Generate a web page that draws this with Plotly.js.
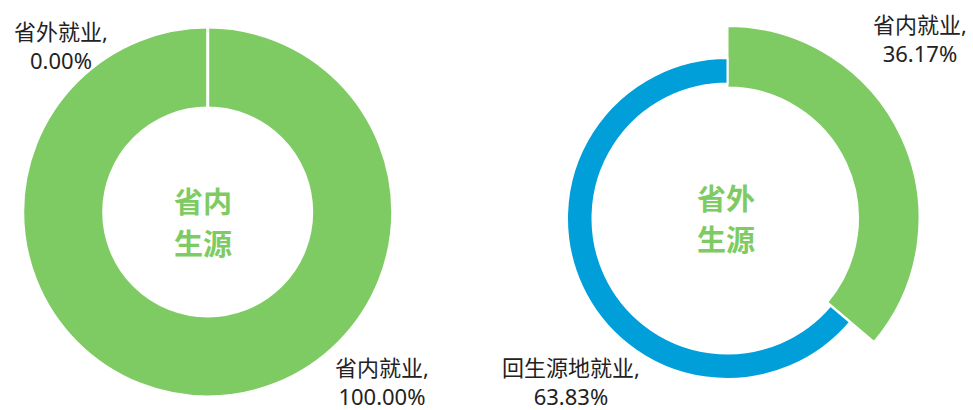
<!DOCTYPE html>
<html>
<head>
<meta charset="utf-8">
<script src="https://cdn.plot.ly/plotly-3.0.1.min.js"></script>
<style>html,body{margin:0;padding:0;background:#fff;}#chart{width:973px;height:410px;}</style>
</head>
<body>
<div id="chart"></div>
<script>
// ---- data ----
const leftTitle = ['省内', '生源'];
const leftLabels = ['省内就业', '省外就业'];
const leftValues = [100.00, 0.00];

const rightTitle = ['省外', '生源'];
const rightLabels = ['省内就业', '回生源地就业'];
const rightValues = [36.17, 63.83];

// ---- styles ----
const GREEN = '#7ECB63';
const BLUE = '#009FD9';
const W = 973, H = 410;
const FONT = 'Noto Sans, Noto Sans CJK SC, sans-serif';

function dom(cx, cy, r) {
  return {
    x: [(cx - r) / W, (cx + r) / W],
    y: [(H - cy - r) / H, (H - cy + r) / H]
  };
}
function pieBase(labels, values) {
  return {
    type: 'pie', labels: labels, values: values, sort: false,
    direction: 'clockwise', rotation: 0, textinfo: 'none',
    hoverinfo: 'skip', showlegend: false
  };
}

const traces = [
  Object.assign(pieBase(leftLabels, leftValues), {
    domain: dom(207.7, 212, 185), hole: 104 / 185,
    marker: {colors: [GREEN, GREEN], line: {color: '#ffffff', width: 3}}
  }),
  Object.assign(pieBase(rightLabels, rightValues), {
    domain: dom(727.5, 218, 192), hole: 130.5 / 192,
    marker: {colors: [GREEN, 'rgba(0,0,0,0)'],
             line: {color: ['#ffffff', 'rgba(0,0,0,0)'], width: [2, 0]}}
  }),
  Object.assign(pieBase(rightLabels, rightValues), {
    domain: dom(727.5, 218.5, 160.5), hole: 135 / 160.5,
    marker: {colors: ['rgba(0,0,0,0)', BLUE],
             line: {color: ['rgba(0,0,0,0)', '#ffffff'], width: [0, 2]}}
  })
];

function lbl(label, v) { return label + ',<br>' + v.toFixed(2) + '%'; }
function ann(text, px, py, size, color, weight) {
  return {
    text: text, xref: 'paper', yref: 'paper', x: px / W, y: 1 - py / H,
    xanchor: 'center', yanchor: 'middle', align: 'center', showarrow: false,
    borderpad: 0,
    font: {family: FONT, size: size, color: color, weight: weight || 'normal'}
  };
}

const annotations = [
  ann(leftTitle[0], 202.5, 201.5, 29, GREEN, 'bold'),
  ann(leftTitle[1], 202.5, 243, 29, GREEN, 'bold'),
  ann(rightTitle[0], 726, 198, 29, GREEN, 'bold'),
  ann(rightTitle[1], 726, 239.5, 29, GREEN, 'bold'),
  ann(lbl(leftLabels[1], leftValues[1]), 61, 46, 22, '#222'),
  ann(lbl(leftLabels[0], leftValues[0]), 382, 381, 22, '#222'),
  ann(lbl(rightLabels[0], rightValues[0]), 920, 39, 22, '#222'),
  ann(lbl(rightLabels[1], rightValues[1]), 571, 381, 22, '#222')
];

Plotly.newPlot('chart', traces, {
  width: W, height: H, margin: {l: 0, r: 0, t: 0, b: 0},
  paper_bgcolor: '#fff', plot_bgcolor: '#fff',
  annotations: annotations, showlegend: false
}, {displayModeBar: false, staticPlot: true});
</script>
</body>
</html>
